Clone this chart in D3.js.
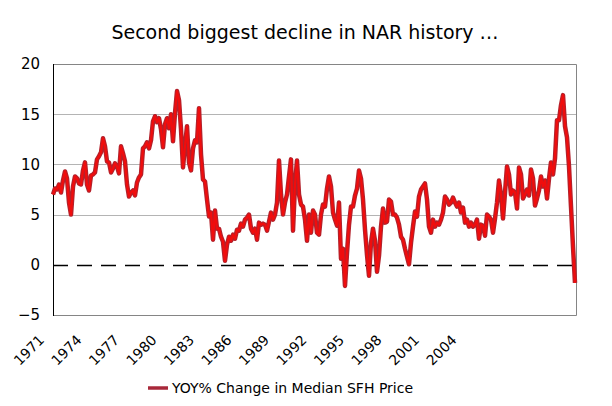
<!DOCTYPE html>
<html>
<head>
<meta charset="utf-8">
<script src="https://cdn.jsdelivr.net/npm/d3@7"></script>
<style>
  html, body { margin: 0; padding: 0; background: #ffffff; }
  svg { display: block; }
  text { font-family: "DejaVu Sans", Verdana, sans-serif; fill: #000; }
</style>
</head>
<body>
<svg id="chart" width="612" height="406"></svg>
<script>
// ---- data (YOY % change in median single-family home price, sampled along the series) ----
const seriesName = "YOY% Change in Median SFH Price";
const title = "Second biggest decline in NAR history \u2026";
const yoyValues = [
  // 1971 - 1979
  7.0, 7.6, 7.5, 8.0, 7.2, 8.4, 9.3, 8.6, 6.2, 5.0,
  7.8, 8.8, 8.6, 8.1, 8.0, 9.4, 10.2, 8.0, 7.4, 8.9,
  9.0, 9.2, 10.5, 10.8, 11.2, 12.6, 11.8, 10.3, 10.2, 9.2,
  9.6, 10.1, 9.8, 9.1, 11.8, 11.1, 10.3, 8.0, 6.8, 7.2,
  7.4, 6.9, 8.2, 8.7, 9.0, 11.6, 11.8, 12.2, 11.6, 12.4,
  14.3,
  // late 1970s - mid 1980s
  14.8, 14.2, 14.6, 13.5, 11.7, 14.0, 14.6, 13.6, 15.0, 12.3,
  15.1, 17.3, 16.4, 13.5, 9.7, 11.8, 13.8, 10.2, 9.4, 11.6,
  12.4, 12.2, 15.6, 11.0, 8.5, 8.3, 6.5, 4.8, 5.2, 2.5,
  5.4, 3.6, 3.6, 2.8, 2.3, 0.4, 2.0, 2.8, 2.4, 3.0,
  2.6, 3.5, 3.4, 4.1, 3.8, 4.5, 4.7, 5.0, 3.6, 3.2,
  3.6, 2.5, 4.2,
  // mid 1980s - early 1990s
  4.0, 4.1, 4.0, 3.4, 4.3, 5.2, 4.5, 5.0, 6.2, 10.4,
  7.0, 5.0, 6.2, 7.0, 8.8, 10.5, 3.4, 8.0, 10.4, 7.0,
  6.0, 5.8, 4.5, 2.4, 5.0, 3.2, 5.4, 5.0, 3.2, 3.0,
  5.0, 6.0, 5.8, 7.6, 8.8, 7.8, 5.2, 4.5, 3.9, 6.2,
  0.6, 1.6, -2.1, 1.2, 4.0, 5.8, 5.8, 6.9, 7.6, 9.4,
  8.6, 6.5, 3.5,
  // early 1990s - 1999
  1.0, -1.1, 2.2, 3.6, 2.4, -0.7, 0.9, 3.8, 5.6, 4.2,
  4.3, 6.5, 6.3, 5.0, 5.0, 4.7, 4.0, 2.8, 2.5, 1.6,
  0.8, 0.05, 2.2, 3.8, 5.3, 4.8, 6.8, 7.5, 7.8, 8.1,
  6.5, 3.8, 3.2, 4.5, 3.8, 4.2, 4.0, 4.5, 5.2, 6.8,
  6.5, 6.0, 6.2, 6.7, 6.2, 5.8, 6.2, 5.2, 5.7, 4.2,
  4.5, 3.8,
  // 2000 - 2006
  4.2, 3.8, 4.0, 4.5, 2.6, 4.0, 3.9, 2.9, 5.0, 4.8,
  4.5, 3.2, 4.6, 6.2, 8.4, 7.0, 4.6, 7.2, 9.8, 9.0,
  7.0, 7.4, 7.2, 5.6, 9.7, 9.0, 6.6, 7.0, 7.5, 6.9,
  9.5, 8.6, 5.9, 6.6, 7.4, 8.8, 7.8, 8.4, 6.6, 8.6,
  10.2, 9.0, 10.6, 14.4, 14.4, 15.9, 16.9, 13.8, 12.7, 9.8,
  5.8, 1.8, -1.8
];
const yTicks = [-5, 0, 5, 10, 15, 20];
const gridValues = [5, 10, 15];
const xLabels = ["1971", "1974", "1977", "1980", "1983", "1986", "1989", "1992", "1995", "1998", "2001", "2004"];

// ---- layout ----
const W = 612, H = 406;
const plot = { left: 53, right: 576, top: 64, bottom: 315 };

const svg = d3.select("#chart");

const x = d3.scaleLinear().domain([0, yoyValues.length - 1]).range([plot.left, plot.right - 1]);
const y = d3.scaleLinear().domain([-5, 20]).range([plot.bottom, plot.top]);
const xl = d3.scalePoint().domain(xLabels).range([45, 457.5]);

// title
svg.append("text")
  .attr("x", 305).attr("y", 39)
  .attr("text-anchor", "middle")
  .style("font-size", "19px")
  .text(title);

// gridlines
svg.append("g").selectAll("line").data(gridValues).join("line")
  .attr("x1", plot.left).attr("x2", plot.right)
  .attr("y1", d => Math.round(y(d)) + 0.5).attr("y2", d => Math.round(y(d)) + 0.5)
  .attr("stroke", "#b4b4b4").attr("stroke-width", 1);

// plot frame (top, right, bottom grey)
svg.append("path")
  .attr("d", `M${plot.left},${plot.top + 0.5}H${plot.right + 0.5}V${plot.bottom + 0.5}H${plot.left}`)
  .attr("fill", "none").attr("stroke", "#858585").attr("stroke-width", 1);

// zero dashed line
svg.append("line")
  .attr("x1", plot.left).attr("x2", plot.right)
  .attr("y1", Math.round(y(0)) + 0.5).attr("y2", Math.round(y(0)) + 0.5)
  .attr("stroke", "#000").attr("stroke-width", 1.3)
  .attr("stroke-dasharray", "15,9");

// y axis
const yAxis = svg.append("g")
  .attr("transform", `translate(${plot.left},0)`)
  .call(d3.axisLeft(y).tickValues(yTicks).tickSize(0).tickPadding(13).tickFormat(d3.format("d")));
yAxis.select(".domain").remove();
yAxis.selectAll("text").style("font-size", "15px").style("font-family", "'DejaVu Sans', Verdana, sans-serif").attr("fill", "#000");
svg.append("line")
  .attr("x1", plot.left + 0.5).attr("x2", plot.left + 0.5)
  .attr("y1", plot.top).attr("y2", plot.bottom + 1)
  .attr("stroke", "#000").attr("stroke-width", 1);

// x labels (rotated)
svg.append("g").selectAll("text").data(xLabels).join("text")
  .attr("transform", d => `translate(${xl(d)},341) rotate(-45)`)
  .attr("text-anchor", "end")
  .style("font-size", "14px")
  .text(d => d);

// series line
const line = d3.line().x((d, i) => x(i)).y(d => y(d)).curve(d3.curveLinear);
svg.append("path").datum(yoyValues)
  .attr("d", line).attr("fill", "none")
  .attr("stroke", "#b3212b").attr("stroke-width", 4.5).attr("stroke-linejoin", "round");
svg.append("path").datum(yoyValues)
  .attr("d", line).attr("fill", "none")
  .attr("stroke", "#f00d0d").attr("stroke-width", 2.2).attr("stroke-linejoin", "round");

// legend
const lg = svg.append("g");
lg.append("line")
  .attr("x1", 148).attr("x2", 168).attr("y1", 388).attr("y2", 388)
  .attr("stroke", "#a8283a").attr("stroke-width", 3.5);
lg.append("text")
  .attr("x", 172).attr("y", 393)
  .style("font-size", "14px")
  .text(seriesName);
</script>
</body>
</html>
